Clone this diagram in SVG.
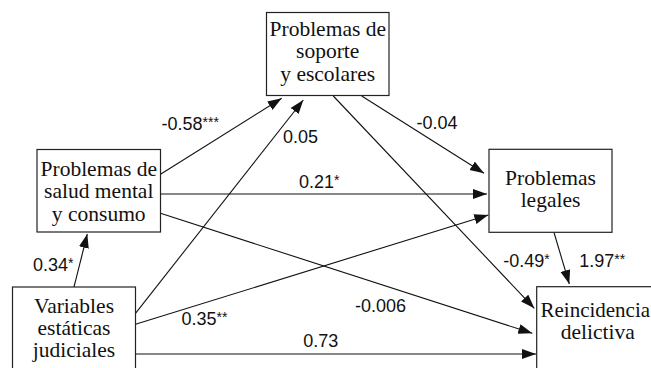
<svg xmlns="http://www.w3.org/2000/svg" width="651" height="368" viewBox="0 0 651 368">
<style>
.box{fill:#fff;stroke:#222;stroke-width:1.2}
.lbl{font-family:"Liberation Serif",serif;font-size:21.5px;fill:#111;text-anchor:middle}
.num{font-family:"Liberation Sans",Arial,sans-serif;font-size:18px;fill:#111}
.sup{font-size:14px}
.edge{stroke:#111;stroke-width:1.1;fill:none;marker-end:url(#ah)}
</style>
<defs>
<marker id="ah" markerUnits="userSpaceOnUse" markerWidth="15" markerHeight="11" refX="14" refY="5" orient="auto" viewBox="0 0 15 11">
<path d="M0,0 L14,5 L0,10 z" fill="#111"/>
</marker>
</defs>
<rect width="651" height="368" fill="#fff"/>
<g id="connectors">
<line class="edge" x1="160.5" y1="174.3" x2="281.7" y2="98.3"/>
<line class="edge" x1="135.5" y1="313.3" x2="303.3" y2="100"/>
<line class="edge" x1="361.7" y1="96" x2="484" y2="173.3"/>
<line class="edge" x1="333.3" y1="96" x2="534.3" y2="308.3"/>
<line class="edge" x1="160.5" y1="194" x2="487" y2="194"/>
<line class="edge" x1="160.5" y1="213.3" x2="532.3" y2="333.3"/>
<line class="edge" x1="135.5" y1="324.3" x2="488.3" y2="215"/>
<line class="edge" x1="135.5" y1="354" x2="536" y2="354"/>
<line class="edge" x1="74" y1="287" x2="87.3" y2="234"/>
<line class="edge" x1="554" y1="232.5" x2="569.3" y2="284"/>
</g>
<g id="labels">
<text class="num" x="161.5" y="130">-0.58<tspan class="sup" dy="-3">***</tspan></text>
<text class="num" x="283" y="143">0.05</text>
<text class="num" x="416.5" y="128.5">-0.04</text>
<text class="num" x="299" y="188">0.21<tspan class="sup" dy="-3">*</tspan></text>
<text class="num" x="33" y="270.7">0.34<tspan class="sup" dy="-3">*</tspan></text>
<text class="num" x="181.5" y="325">0.35<tspan class="sup" dy="-3">**</tspan></text>
<text class="num" x="355" y="311.7">-0.006</text>
<text class="num" x="303.3" y="347.3">0.73</text>
<text class="num" x="503.3" y="266.7">-0.49<tspan class="sup" dy="-3">*</tspan></text>
<text class="num" x="579.3" y="266.7">1.97<tspan class="sup" dy="-3">**</tspan></text>
</g>
<g id="n-soporte">
<rect class="box" x="266.5" y="12.5" width="122.5" height="83"/>
<text class="lbl" x="327.75" y="35.7">Problemas de</text>
<text class="lbl" x="327.75" y="58.3">soporte</text>
<text class="lbl" x="327.75" y="81">y escolares</text>
</g>
<g id="n-salud">
<rect class="box" x="37" y="149.5" width="123.5" height="82.5"/>
<text class="lbl" x="98.75" y="176">Problemas de</text>
<text class="lbl" x="98.75" y="198.3">salud mental</text>
<text class="lbl" x="98.75" y="220.7">y consumo</text>
</g>
<g id="n-legales">
<rect class="box" x="489" y="149.3" width="123" height="83"/>
<text class="lbl" x="550.5" y="185">Problemas</text>
<text class="lbl" x="550.5" y="206.7">legales</text>
</g>
<g id="n-variables">
<rect class="box" x="12.5" y="287" width="123" height="90"/>
<text class="lbl" x="74" y="312.7">Variables</text>
<text class="lbl" x="74" y="335">estáticas</text>
<text class="lbl" x="74" y="357.3">judiciales</text>
</g>
<g id="n-reincidencia">
<rect class="box" x="536.7" y="286.7" width="122" height="90"/>
<text class="lbl" x="595.3" y="316.7" style="font-size:21px">Reincidencia</text>
<text class="lbl" x="597.7" y="339">delictiva</text>
</g>
</svg>
